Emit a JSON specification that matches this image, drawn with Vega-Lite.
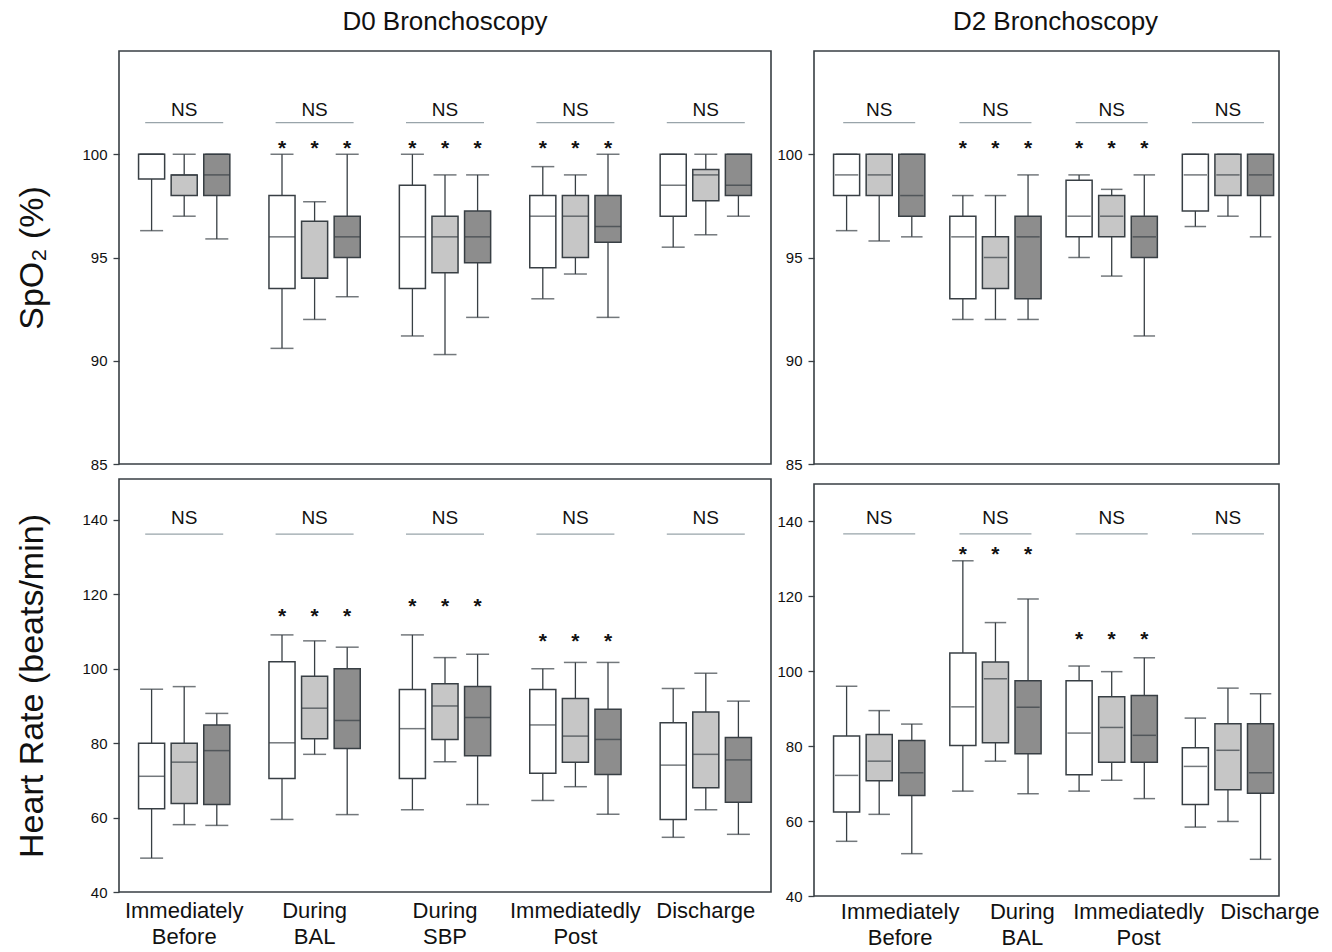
{
  "$schema": "https://vega.github.io/schema/vega-lite/v6.json",
  "background": "white",
  "padding": {"left": 15, "top": 8, "right": 5, "bottom": 0},
  "spacing": 4,
  "config": {
    "font": "Liberation Sans",
    "view": {"stroke": "#383f44", "strokeWidth": 1.6},
    "axis": {"domain": false, "grid": false, "labelFont": "Liberation Sans", "labelFontSize": 15, "labelColor": "#111", "tickColor": "#383f44", "tickSize": 6, "tickWidth": 1.3, "labelPadding": 6, "titleFont": "Liberation Sans", "titleFontSize": 34, "titleFontWeight": "normal", "titleColor": "#111"},
    "title": {"font": "Liberation Sans", "fontSize": 26, "fontWeight": "normal", "color": "#111", "baseline": "alphabetic", "offset": 16}
  },
  "datasets": {
    "boxes": [
      {"day": "D0", "meas": "SpO2", "time": "Immediately Before", "grp": 1, "lo": 96.3, "q1": 98.8, "med": 100, "q3": 100, "hi": 100},
      {"day": "D0", "meas": "SpO2", "time": "Immediately Before", "grp": 2, "lo": 97.0, "q1": 98.0, "med": 99.0, "q3": 99.0, "hi": 100},
      {"day": "D0", "meas": "SpO2", "time": "Immediately Before", "grp": 3, "lo": 95.9, "q1": 98.0, "med": 99.0, "q3": 100, "hi": 100},
      {"day": "D0", "meas": "SpO2", "time": "During BAL", "grp": 1, "lo": 90.6, "q1": 93.5, "med": 96.0, "q3": 98.0, "hi": 100, "sig": 100.5},
      {"day": "D0", "meas": "SpO2", "time": "During BAL", "grp": 2, "lo": 92.0, "q1": 94.0, "med": 94.0, "q3": 96.75, "hi": 97.7, "sig": 100.5},
      {"day": "D0", "meas": "SpO2", "time": "During BAL", "grp": 3, "lo": 93.1, "q1": 95.0, "med": 96.0, "q3": 97.0, "hi": 100, "sig": 100.5},
      {"day": "D0", "meas": "SpO2", "time": "During SBP", "grp": 1, "lo": 91.2, "q1": 93.5, "med": 96.0, "q3": 98.5, "hi": 100, "sig": 100.5},
      {"day": "D0", "meas": "SpO2", "time": "During SBP", "grp": 2, "lo": 90.3, "q1": 94.26, "med": 96.0, "q3": 97.0, "hi": 99.0, "sig": 100.5},
      {"day": "D0", "meas": "SpO2", "time": "During SBP", "grp": 3, "lo": 92.1, "q1": 94.74, "med": 96.0, "q3": 97.25, "hi": 99.0, "sig": 100.5},
      {"day": "D0", "meas": "SpO2", "time": "Immediatedly Post", "grp": 1, "lo": 93.0, "q1": 94.5, "med": 97.0, "q3": 98.0, "hi": 99.4, "sig": 100.5},
      {"day": "D0", "meas": "SpO2", "time": "Immediatedly Post", "grp": 2, "lo": 94.2, "q1": 95.0, "med": 97.0, "q3": 98.0, "hi": 99.0, "sig": 100.5},
      {"day": "D0", "meas": "SpO2", "time": "Immediatedly Post", "grp": 3, "lo": 92.1, "q1": 95.74, "med": 96.5, "q3": 98.0, "hi": 100, "sig": 100.5},
      {"day": "D0", "meas": "SpO2", "time": "Discharge", "grp": 1, "lo": 95.5, "q1": 97.0, "med": 98.5, "q3": 100, "hi": 100},
      {"day": "D0", "meas": "SpO2", "time": "Discharge", "grp": 2, "lo": 96.1, "q1": 97.75, "med": 99.0, "q3": 99.26, "hi": 100},
      {"day": "D0", "meas": "SpO2", "time": "Discharge", "grp": 3, "lo": 97.0, "q1": 98.0, "med": 98.5, "q3": 100, "hi": 100},

      {"day": "D2", "meas": "SpO2", "time": "Immediately Before", "grp": 1, "lo": 96.3, "q1": 98.0, "med": 99.0, "q3": 100, "hi": 100},
      {"day": "D2", "meas": "SpO2", "time": "Immediately Before", "grp": 2, "lo": 95.8, "q1": 98.0, "med": 99.0, "q3": 100, "hi": 100},
      {"day": "D2", "meas": "SpO2", "time": "Immediately Before", "grp": 3, "lo": 96.0, "q1": 97.0, "med": 98.0, "q3": 100, "hi": 100},
      {"day": "D2", "meas": "SpO2", "time": "During BAL", "grp": 1, "lo": 92.0, "q1": 93.0, "med": 96.0, "q3": 97.0, "hi": 98.0, "sig": 100.5},
      {"day": "D2", "meas": "SpO2", "time": "During BAL", "grp": 2, "lo": 92.0, "q1": 93.5, "med": 95.0, "q3": 96.0, "hi": 98.0, "sig": 100.5},
      {"day": "D2", "meas": "SpO2", "time": "During BAL", "grp": 3, "lo": 92.0, "q1": 93.0, "med": 96.0, "q3": 97.0, "hi": 99.0, "sig": 100.5},
      {"day": "D2", "meas": "SpO2", "time": "Immediatedly Post", "grp": 1, "lo": 95.0, "q1": 96.0, "med": 97.0, "q3": 98.74, "hi": 99.0, "sig": 100.5},
      {"day": "D2", "meas": "SpO2", "time": "Immediatedly Post", "grp": 2, "lo": 94.1, "q1": 96.0, "med": 97.0, "q3": 98.0, "hi": 98.3, "sig": 100.5},
      {"day": "D2", "meas": "SpO2", "time": "Immediatedly Post", "grp": 3, "lo": 91.2, "q1": 95.0, "med": 96.0, "q3": 97.0, "hi": 99.0, "sig": 100.5},
      {"day": "D2", "meas": "SpO2", "time": "Discharge", "grp": 1, "lo": 96.5, "q1": 97.25, "med": 99.0, "q3": 100, "hi": 100},
      {"day": "D2", "meas": "SpO2", "time": "Discharge", "grp": 2, "lo": 97.0, "q1": 98.0, "med": 99.0, "q3": 100, "hi": 100},
      {"day": "D2", "meas": "SpO2", "time": "Discharge", "grp": 3, "lo": 96.0, "q1": 98.0, "med": 99.0, "q3": 100, "hi": 100},

      {"day": "D0", "meas": "HR", "time": "Immediately Before", "grp": 1, "lo": 49.1, "q1": 62.4, "med": 71.1, "q3": 80.0, "hi": 94.5},
      {"day": "D0", "meas": "HR", "time": "Immediately Before", "grp": 2, "lo": 58.1, "q1": 63.8, "med": 74.9, "q3": 80.0, "hi": 95.2},
      {"day": "D0", "meas": "HR", "time": "Immediately Before", "grp": 3, "lo": 57.9, "q1": 63.5, "med": 78.0, "q3": 84.9, "hi": 88.0},
      {"day": "D0", "meas": "HR", "time": "During BAL", "grp": 1, "lo": 59.5, "q1": 70.5, "med": 80.1, "q3": 101.9, "hi": 109.1, "sig": 115.3},
      {"day": "D0", "meas": "HR", "time": "During BAL", "grp": 2, "lo": 77.0, "q1": 81.2, "med": 89.4, "q3": 98.0, "hi": 107.5, "sig": 115.3},
      {"day": "D0", "meas": "HR", "time": "During BAL", "grp": 3, "lo": 60.8, "q1": 78.6, "med": 86.1, "q3": 100.0, "hi": 105.8, "sig": 115.3},
      {"day": "D0", "meas": "HR", "time": "During SBP", "grp": 1, "lo": 62.1, "q1": 70.5, "med": 83.9, "q3": 94.4, "hi": 109.1, "sig": 118.0},
      {"day": "D0", "meas": "HR", "time": "During SBP", "grp": 2, "lo": 75.0, "q1": 81.0, "med": 90.0, "q3": 96.0, "hi": 103.0, "sig": 118.0},
      {"day": "D0", "meas": "HR", "time": "During SBP", "grp": 3, "lo": 63.5, "q1": 76.6, "med": 86.9, "q3": 95.2, "hi": 103.9, "sig": 118.0},
      {"day": "D0", "meas": "HR", "time": "Immediatedly Post", "grp": 1, "lo": 64.6, "q1": 71.9, "med": 84.9, "q3": 94.4, "hi": 100.0, "sig": 108.6},
      {"day": "D0", "meas": "HR", "time": "Immediatedly Post", "grp": 2, "lo": 68.3, "q1": 74.9, "med": 81.9, "q3": 92.0, "hi": 101.7, "sig": 108.6},
      {"day": "D0", "meas": "HR", "time": "Immediatedly Post", "grp": 3, "lo": 60.9, "q1": 71.6, "med": 81.0, "q3": 89.1, "hi": 101.7, "sig": 108.6},
      {"day": "D0", "meas": "HR", "time": "Discharge", "grp": 1, "lo": 54.7, "q1": 59.5, "med": 74.1, "q3": 85.5, "hi": 94.7},
      {"day": "D0", "meas": "HR", "time": "Discharge", "grp": 2, "lo": 62.1, "q1": 68.0, "med": 77.0, "q3": 88.4, "hi": 98.8},
      {"day": "D0", "meas": "HR", "time": "Discharge", "grp": 3, "lo": 55.5, "q1": 64.1, "med": 75.5, "q3": 81.5, "hi": 91.3},

      {"day": "D2", "meas": "HR", "time": "Immediately Before", "grp": 1, "lo": 54.6, "q1": 62.4, "med": 72.2, "q3": 82.7, "hi": 96.0},
      {"day": "D2", "meas": "HR", "time": "Immediately Before", "grp": 2, "lo": 61.8, "q1": 70.8, "med": 76.0, "q3": 83.1, "hi": 89.5},
      {"day": "D2", "meas": "HR", "time": "Immediately Before", "grp": 3, "lo": 51.3, "q1": 66.8, "med": 72.9, "q3": 81.5, "hi": 85.9},
      {"day": "D2", "meas": "HR", "time": "During BAL", "grp": 1, "lo": 68.0, "q1": 80.2, "med": 90.5, "q3": 104.9, "hi": 129.5, "sig": 132.4},
      {"day": "D2", "meas": "HR", "time": "During BAL", "grp": 2, "lo": 76.0, "q1": 80.9, "med": 98.0, "q3": 102.5, "hi": 113.0, "sig": 132.4},
      {"day": "D2", "meas": "HR", "time": "During BAL", "grp": 3, "lo": 67.3, "q1": 78.0, "med": 90.4, "q3": 97.5, "hi": 119.3, "sig": 132.4},
      {"day": "D2", "meas": "HR", "time": "Immediatedly Post", "grp": 1, "lo": 68.0, "q1": 72.4, "med": 83.5, "q3": 97.5, "hi": 101.4, "sig": 109.8},
      {"day": "D2", "meas": "HR", "time": "Immediatedly Post", "grp": 2, "lo": 70.9, "q1": 75.7, "med": 85.0, "q3": 93.2, "hi": 99.9, "sig": 109.8},
      {"day": "D2", "meas": "HR", "time": "Immediatedly Post", "grp": 3, "lo": 66.0, "q1": 75.7, "med": 82.9, "q3": 93.5, "hi": 103.6, "sig": 109.8},
      {"day": "D2", "meas": "HR", "time": "Discharge", "grp": 1, "lo": 58.4, "q1": 64.4, "med": 74.6, "q3": 79.6, "hi": 87.5},
      {"day": "D2", "meas": "HR", "time": "Discharge", "grp": 2, "lo": 59.9, "q1": 68.4, "med": 78.9, "q3": 86.0, "hi": 95.5},
      {"day": "D2", "meas": "HR", "time": "Discharge", "grp": 3, "lo": 49.8, "q1": 67.4, "med": 72.9, "q3": 86.0, "hi": 94.0}
    ]
  },
  "data": {"name": "boxes"},
  "hconcat": [
    {
      "spacing": 5,
      "vconcat": [
        {
          "width": 652, "height": 413,
          "title": {"text": "D0 Bronchoscopy"},
          "transform": [{"filter": "datum.day == 'D0' && datum.meas == 'SpO2'"}],
          "encoding": {
            "x": {"field": "time", "type": "nominal", "scale": {"domain": ["Immediately Before", "During BAL", "During SBP", "Immediatedly Post", "Discharge"], "paddingInner": 0, "paddingOuter": 0}, "axis": null},
            "xOffset": {"field": "grp", "type": "nominal", "scale": {"domain": [1, 2, 3], "paddingInner": 0.2, "paddingOuter": 0.6}}
          },
          "layer": [
            {"mark": {"type": "rule", "color": "#383f44", "strokeWidth": 1.3},
             "encoding": {"y": {"field": "lo", "type": "quantitative", "scale": {"domain": [85, 105], "nice": false, "zero": false}, "axis": {"values": [85, 90, 95, 100], "title": "SpO₂ (%)", "titlePadding": 32}}, "y2": {"field": "hi"}}},
            {"mark": {"type": "bar", "stroke": "#383f44", "strokeWidth": 1.5},
             "encoding": {"y": {"field": "q1", "type": "quantitative"}, "y2": {"field": "q3"}, "fill": {"field": "grp", "type": "nominal", "scale": {"domain": [1, 2, 3], "range": ["#ffffff", "#c6c6c6", "#8d8d8d"]}, "legend": null}}},
            {"mark": {"type": "tick", "color": "#383f44", "thickness": 1.5, "size": 26}, "encoding": {"y": {"field": "med", "type": "quantitative"}}},
            {"mark": {"type": "tick", "color": "#383f44", "thickness": 1.5, "size": 23}, "encoding": {"y": {"field": "lo", "type": "quantitative"}}},
            {"mark": {"type": "tick", "color": "#383f44", "thickness": 1.5, "size": 23}, "encoding": {"y": {"field": "hi", "type": "quantitative"}}},
            {"transform": [{"filter": "isValid(datum.sig)"}], "mark": {"type": "text", "text": "*", "fontSize": 21, "fontWeight": "bold", "dy": 5, "color": "#111"}, "encoding": {"y": {"field": "sig", "type": "quantitative"}}},
            {"transform": [{"filter": "datum.grp == 2"}], "mark": {"type": "text", "text": "NS", "fontSize": 19, "dy": 1, "color": "#111"}, "encoding": {"y": {"datum": 102.2, "type": "quantitative"}}},
            {"transform": [{"filter": "datum.grp == 2"}], "mark": {"type": "tick", "color": "#6e7e86", "thickness": 1.2, "size": 78}, "encoding": {"y": {"datum": 101.53, "type": "quantitative"}}}
          ]
        },
        {
          "width": 652, "height": 413,
          "transform": [{"filter": "datum.day == 'D0' && datum.meas == 'HR'"}],
          "encoding": {
            "x": {"field": "time", "type": "nominal", "scale": {"domain": ["Immediately Before", "During BAL", "During SBP", "Immediatedly Post", "Discharge"], "paddingInner": 0, "paddingOuter": 0}, "axis": {"title": null, "labelAngle": 0, "ticks": false, "labelExpr": "split(datum.label, ' ')", "labelFontSize": 22, "labelLineHeight": 26, "labelPadding": 8, "labelColor": "#111"}},
            "xOffset": {"field": "grp", "type": "nominal", "scale": {"domain": [1, 2, 3], "paddingInner": 0.2, "paddingOuter": 0.6}}
          },
          "layer": [
            {"mark": {"type": "rule", "color": "#383f44", "strokeWidth": 1.3},
             "encoding": {"y": {"field": "lo", "type": "quantitative", "scale": {"domain": [40, 151], "nice": false, "zero": false}, "axis": {"values": [40, 60, 80, 100, 120, 140], "title": "Heart Rate (beats/min)", "titlePadding": 32}}, "y2": {"field": "hi"}}},
            {"mark": {"type": "bar", "stroke": "#383f44", "strokeWidth": 1.5},
             "encoding": {"y": {"field": "q1", "type": "quantitative"}, "y2": {"field": "q3"}, "fill": {"field": "grp", "type": "nominal", "scale": {"domain": [1, 2, 3], "range": ["#ffffff", "#c6c6c6", "#8d8d8d"]}, "legend": null}}},
            {"mark": {"type": "tick", "color": "#383f44", "thickness": 1.5, "size": 26}, "encoding": {"y": {"field": "med", "type": "quantitative"}}},
            {"mark": {"type": "tick", "color": "#383f44", "thickness": 1.5, "size": 23}, "encoding": {"y": {"field": "lo", "type": "quantitative"}}},
            {"mark": {"type": "tick", "color": "#383f44", "thickness": 1.5, "size": 23}, "encoding": {"y": {"field": "hi", "type": "quantitative"}}},
            {"transform": [{"filter": "isValid(datum.sig)"}], "mark": {"type": "text", "text": "*", "fontSize": 21, "fontWeight": "bold", "dy": 5, "color": "#111"}, "encoding": {"y": {"field": "sig", "type": "quantitative"}}},
            {"transform": [{"filter": "datum.grp == 2"}], "mark": {"type": "text", "text": "NS", "fontSize": 19, "dy": 1, "color": "#111"}, "encoding": {"y": {"datum": 140.9, "type": "quantitative"}}},
            {"transform": [{"filter": "datum.grp == 2"}], "mark": {"type": "tick", "color": "#6e7e86", "thickness": 1.2, "size": 78}, "encoding": {"y": {"datum": 136.2, "type": "quantitative"}}}
          ]
        }
      ]
    },
    {
      "spacing": 10,
      "vconcat": [
        {
          "width": 465, "height": 413,
          "title": {"text": "D2 Bronchoscopy", "dx": 9},
          "transform": [{"filter": "datum.day == 'D2' && datum.meas == 'SpO2'"}],
          "encoding": {
            "x": {"field": "time", "type": "nominal", "scale": {"domain": ["Immediately Before", "During BAL", "Immediatedly Post", "Discharge"], "paddingInner": 0, "paddingOuter": 0}, "axis": null},
            "xOffset": {"field": "grp", "type": "nominal", "scale": {"domain": [1, 2, 3], "paddingInner": 0.2, "paddingOuter": 0.6}}
          },
          "layer": [
            {"mark": {"type": "rule", "color": "#383f44", "strokeWidth": 1.3},
             "encoding": {"y": {"field": "lo", "type": "quantitative", "scale": {"domain": [85, 105], "nice": false, "zero": false}, "axis": {"values": [85, 90, 95, 100], "title": null}}, "y2": {"field": "hi"}}},
            {"mark": {"type": "bar", "stroke": "#383f44", "strokeWidth": 1.5},
             "encoding": {"y": {"field": "q1", "type": "quantitative"}, "y2": {"field": "q3"}, "fill": {"field": "grp", "type": "nominal", "scale": {"domain": [1, 2, 3], "range": ["#ffffff", "#c6c6c6", "#8d8d8d"]}, "legend": null}}},
            {"mark": {"type": "tick", "color": "#383f44", "thickness": 1.5, "size": 23.3}, "encoding": {"y": {"field": "med", "type": "quantitative"}}},
            {"mark": {"type": "tick", "color": "#383f44", "thickness": 1.5, "size": 21.5}, "encoding": {"y": {"field": "lo", "type": "quantitative"}}},
            {"mark": {"type": "tick", "color": "#383f44", "thickness": 1.5, "size": 21.5}, "encoding": {"y": {"field": "hi", "type": "quantitative"}}},
            {"transform": [{"filter": "isValid(datum.sig)"}], "mark": {"type": "text", "text": "*", "fontSize": 21, "fontWeight": "bold", "dy": 5, "color": "#111"}, "encoding": {"y": {"field": "sig", "type": "quantitative"}}},
            {"transform": [{"filter": "datum.grp == 2"}], "mark": {"type": "text", "text": "NS", "fontSize": 19, "dy": 1, "color": "#111"}, "encoding": {"y": {"datum": 102.2, "type": "quantitative"}}},
            {"transform": [{"filter": "datum.grp == 2"}], "mark": {"type": "tick", "color": "#6e7e86", "thickness": 1.2, "size": 72}, "encoding": {"y": {"datum": 101.53, "type": "quantitative"}}}
          ]
        },
        {
          "width": 465, "height": 412,
          "transform": [{"filter": "datum.day == 'D2' && datum.meas == 'HR'"}],
          "encoding": {
            "x": {"field": "time", "type": "nominal", "scale": {"domain": ["Immediately Before", "During BAL", "Immediatedly Post", "Discharge"], "paddingInner": 0, "paddingOuter": 0}, "axis": {"title": null, "labelAngle": 0, "ticks": false, "labelExpr": "split(datum.label, ' ')", "labelFontSize": 22, "labelLineHeight": 26, "labelPadding": 5, "labelOffset": {"condition": [{"test": "datum.value == 'Discharge'", "value": 49}, {"test": "datum.value == 'Immediately Before'", "value": 28}], "value": 34}, "labelColor": "#111"}},
            "xOffset": {"field": "grp", "type": "nominal", "scale": {"domain": [1, 2, 3], "paddingInner": 0.2, "paddingOuter": 0.6}}
          },
          "layer": [
            {"mark": {"type": "rule", "color": "#383f44", "strokeWidth": 1.3},
             "encoding": {"y": {"field": "lo", "type": "quantitative", "scale": {"domain": [40, 150], "nice": false, "zero": false}, "axis": {"values": [40, 60, 80, 100, 120, 140], "title": null}}, "y2": {"field": "hi"}}},
            {"mark": {"type": "bar", "stroke": "#383f44", "strokeWidth": 1.5},
             "encoding": {"y": {"field": "q1", "type": "quantitative"}, "y2": {"field": "q3"}, "fill": {"field": "grp", "type": "nominal", "scale": {"domain": [1, 2, 3], "range": ["#ffffff", "#c6c6c6", "#8d8d8d"]}, "legend": null}}},
            {"mark": {"type": "tick", "color": "#383f44", "thickness": 1.5, "size": 23.3}, "encoding": {"y": {"field": "med", "type": "quantitative"}}},
            {"mark": {"type": "tick", "color": "#383f44", "thickness": 1.5, "size": 21.5}, "encoding": {"y": {"field": "lo", "type": "quantitative"}}},
            {"mark": {"type": "tick", "color": "#383f44", "thickness": 1.5, "size": 21.5}, "encoding": {"y": {"field": "hi", "type": "quantitative"}}},
            {"transform": [{"filter": "isValid(datum.sig)"}], "mark": {"type": "text", "text": "*", "fontSize": 21, "fontWeight": "bold", "dy": 5, "color": "#111"}, "encoding": {"y": {"field": "sig", "type": "quantitative"}}},
            {"transform": [{"filter": "datum.grp == 2"}], "mark": {"type": "text", "text": "NS", "fontSize": 19, "dy": 1, "color": "#111"}, "encoding": {"y": {"datum": 141.3, "type": "quantitative"}}},
            {"transform": [{"filter": "datum.grp == 2"}], "mark": {"type": "tick", "color": "#6e7e86", "thickness": 1.2, "size": 72}, "encoding": {"y": {"datum": 136.7, "type": "quantitative"}}}
          ]
        }
      ]
    }
  ]
}
